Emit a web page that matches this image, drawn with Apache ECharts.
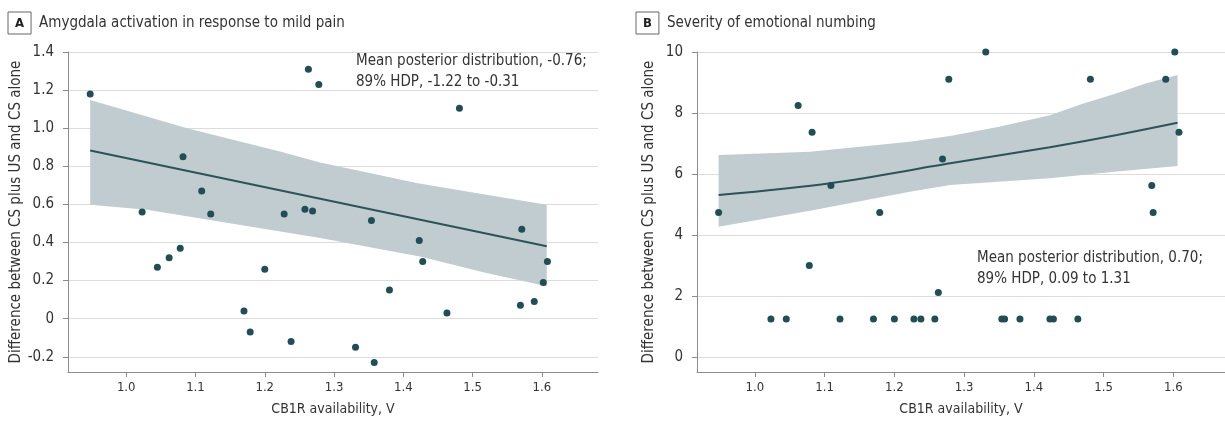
<!DOCTYPE html>
<html>
<head>
<meta charset="utf-8">
<script src="https://cdn.jsdelivr.net/npm/echarts@6/dist/echarts.min.js"></script>
<style>html,body{margin:0;padding:0;background:#fff}#c{width:1225px;height:423px}</style>
</head>
<body>
<div id="c"></div>
<script>
// CB1R availability (shared subjects)
const cb1r = [0.948,1.023,1.045,1.062,1.078,1.082,1.109,1.122,1.170,1.179,1.200,1.228,1.238,1.258,1.263,1.269,1.278,1.331,1.354,1.358,1.380,1.423,1.428,1.463,1.481,1.569,1.571,1.589,1.602,1.608];
// Panel A: amygdala activation difference
const amygdala = [1.18,0.56,0.27,0.32,0.37,0.85,0.67,0.55,0.04,-0.07,0.26,0.55,-0.12,0.575,1.31,0.565,1.23,-0.15,0.515,-0.23,0.15,0.41,0.30,0.03,1.105,0.07,0.47,0.09,0.19,0.30];
// Panel B: emotional numbing difference
const numbing = [4.74,1.25,1.25,8.25,3.0,7.37,5.62,1.25,1.25,4.74,1.25,1.25,1.25,1.25,2.12,6.49,9.11,10,1.25,1.25,1.25,1.25,1.25,1.25,9.11,5.62,4.74,9.11,10,7.37];
// Fitted lines and 89% HDP bands
const fitA = [[0.948,0.883],[1.607,0.380]];
const bandAUpper = [[0.948,1.148],[1.088,1.0],[1.222,0.878],[1.28,0.82],[1.419,0.712],[1.52,0.65],[1.607,0.598]];
const bandALower = [[0.948,0.598],[1.03,0.572],[1.28,0.423],[1.424,0.327],[1.52,0.24],[1.607,0.17]];
const fitB = [[0.948,5.31],[1.108,5.70],[1.28,6.35],[1.423,6.88],[1.519,7.28],[1.606,7.68]];
const bandBUpper = [[0.948,6.62],[1.079,6.73],[1.222,7.06],[1.28,7.25],[1.35,7.55],[1.423,7.93],[1.47,8.30],[1.519,8.65],[1.56,8.97],[1.606,9.25]];
const bandBLower = [[0.948,4.27],[1.079,4.80],[1.222,5.42],[1.28,5.64],[1.423,5.86],[1.519,6.08],[1.606,6.26]];
// Tick labels
const xTicks = [1.0,1.1,1.2,1.3,1.4,1.5,1.6];
const yTicksA = [-0.2,0,0.2,0.4,0.6,0.8,1.0,1.2,1.4];
const yTicksB = [0,2,4,6,8,10];

const FONT = "'Liberation Sans Narrow','DejaVu Sans Condensed',Roboto,sans-serif";
const TXT = '#333';
const DOT = '#234d54';
const LINE = '#2c5358';
const BAND = '#c1ccd0';

function bandPoly(upper, lower) {
  const pts = upper.concat(lower.slice().reverse());
  return function (params, api) {
    return {
      type: 'polygon',
      shape: { points: pts.map(p => api.coord(p)) },
      style: { fill: BAND }
    };
  };
}

const chart = echarts.init(document.getElementById('c'));
function xAxisCfg(gi, min, max) {
  return {
    type: 'value', gridIndex: gi, min: min, max: max,
    name: 'CB1R availability, V', nameLocation: 'middle', nameGap: 30,
    nameTextStyle: { fontFamily: FONT, fontSize: 14, color: TXT },
    axisLine: { onZero: false, lineStyle: { color: '#8c8c8c' } },
    axisTick: { show: true, length: 5, customValues: xTicks, lineStyle: { color: '#8c8c8c' } },
    axisLabel: { customValues: xTicks, fontFamily: FONT, fontSize: 13, color: TXT, margin: 9, formatter: v => v.toFixed(1) },
    splitLine: { show: false }
  };
}
function yAxisCfg(gi, min, max, ticks, fmt) {
  return {
    type: 'value', gridIndex: gi, min: min, max: max,
    name: 'Difference between CS plus US and CS alone', nameLocation: 'middle', nameGap: 40,
    nameTextStyle: { fontFamily: FONT, fontSize: 15, color: TXT },
    axisLine: { show: true, onZero: false, lineStyle: { color: '#8c8c8c' } },
    axisTick: { show: true, length: 5, customValues: ticks, lineStyle: { color: '#8c8c8c' } },
    axisLabel: { customValues: ticks, fontFamily: FONT, fontSize: 15, color: TXT, margin: 14, formatter: fmt },
    splitLine: { show: true, lineStyle: { color: '#dcdcdc' } }
  };
}
const fmtA = v => (Math.abs(v) < 1e-9 ? '0' : v.toFixed(1));
const fmtB = v => String(Math.round(v));
const titleRich = {
  b: { fontFamily: FONT, fontWeight: 'bold', fontSize: 13, color: '#222', borderColor: '#666', borderWidth: 1, padding: [5, 7, 4, 7] },
  t: { fontFamily: FONT, fontWeight: 'normal', fontSize: 15, color: TXT, padding: [0, 0, 0, 8] }
};

chart.setOption({
  animation: false,
  title: [
    { left: 3, top: 7, text: '{b|A}{t|Amygdala activation in response to mild pain}', textStyle: { fontWeight: 'normal', rich: titleRich } },
    { left: 631, top: 7, text: '{b|B}{t|Severity of emotional numbing}', textStyle: { fontWeight: 'normal', rich: titleRich } }
  ],
  graphic: [
    { type: 'text', left: 356, top: 51, style: { text: 'Mean posterior distribution, -0.76;\n89% HDP, -1.22 to -0.31', font: "15px " + FONT, fill: TXT, lineHeight: 21 } },
    { type: 'text', left: 977, top: 248, style: { text: 'Mean posterior distribution, 0.70;\n89% HDP, 0.09 to 1.31', font: "15px " + FONT, fill: TXT, lineHeight: 21 } }
  ],
  grid: [
    { left: 68, top: 52, width: 530, height: 320 },
    { left: 697, top: 52, width: 528, height: 320 }
  ],
  xAxis: [ xAxisCfg(0, 0.916, 1.681), xAxisCfg(1, 0.917, 1.674) ],
  yAxis: [ yAxisCfg(0, -0.28, 1.4, yTicksA, fmtA), yAxisCfg(1, -0.49, 10, yTicksB, fmtB) ],
  series: [
    { type: 'custom', xAxisIndex: 0, yAxisIndex: 0, renderItem: bandPoly(bandAUpper, bandALower), data: [0], silent: true, z: 1 },
    { type: 'line', xAxisIndex: 0, yAxisIndex: 0, data: fitA, showSymbol: false, lineStyle: { color: LINE, width: 2 }, z: 2 },
    { type: 'scatter', xAxisIndex: 0, yAxisIndex: 0, data: cb1r.map((x, i) => [x, amygdala[i]]), symbolSize: 7, itemStyle: { color: DOT, opacity: 1 }, z: 3 },
    { type: 'custom', xAxisIndex: 1, yAxisIndex: 1, renderItem: bandPoly(bandBUpper, bandBLower), data: [0], silent: true, z: 1 },
    { type: 'line', xAxisIndex: 1, yAxisIndex: 1, data: fitB, showSymbol: false, smooth: 0.3, lineStyle: { color: LINE, width: 2 }, z: 2 },
    { type: 'scatter', xAxisIndex: 1, yAxisIndex: 1, data: cb1r.map((x, i) => [x, numbing[i]]), symbolSize: 7, itemStyle: { color: DOT, opacity: 1 }, z: 3 }
  ]
});
</script>
</body>
</html>
